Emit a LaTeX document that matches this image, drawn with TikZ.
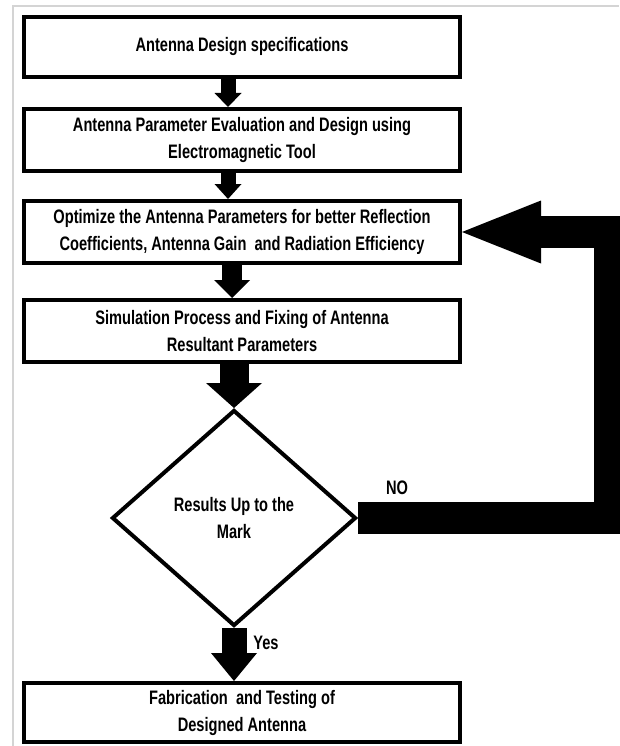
\documentclass[tikz,border=0pt]{standalone}
\usepackage{fontspec}
\setmainfont{Liberation Sans}[FakeStretch=0.75]
\usetikzlibrary{arrows.meta,shapes.geometric}
\begin{document}
\begin{tikzpicture}[x=1pt,y=-1pt,
  txt/.style={font=\fontsize{19.5}{27}\selectfont\bfseries},
  stepbox/.style={draw,line width=4pt,minimum width=436pt,inner sep=0pt,align=center,txt},
  decision/.style={draw,diamond,line width=4pt,minimum width=244pt,minimum height=216pt,aspect=1.13,inner sep=0pt,align=center,txt},
  blockarr/.style args={#1/#2/#3}{line width=#1,-{Triangle[width=#2,length=#3,line width=0pt]}},
  frameline/.style={draw=black!17,line width=2pt}]
\useasboundingbox (0,0) rectangle (619,746);
\draw[frameline] (13,746) -- (13,6) -- (619,6);

\node[stepbox,minimum height=60pt] (b1) at (242,47) {Antenna Design specifications};
\node[stepbox,minimum height=62pt] (b2) at (242,140) {Antenna Parameter Evaluation and Design using\\Electromagnetic Tool};
\node[stepbox,minimum height=62pt] (b3) at (242,232) {Optimize the Antenna Parameters for better Reflection\\Coefficients, Antenna Gain\ \ and Radiation Efficiency};
\node[stepbox,minimum height=62pt] (b4) at (242,331) {Simulation Process and Fixing of Antenna\\Resultant Parameters};
\node[decision] (d) at (234,518) {Results Up to the\\Mark};
\node[stepbox,minimum height=59pt] (b5) at (242,712.5) {Fabrication\ \ and Testing of\\Designed Antenna};

\coordinate (fb) at (610,375);

\draw[blockarr=15pt/27pt/14pt] ([xshift=-14pt]b1.south) -- ([xshift=-14pt]b2.north);
\draw[blockarr=15pt/27pt/15pt] ([xshift=-14pt]b2.south) -- ([xshift=-14pt]b3.north);
\draw[blockarr=20pt/36pt/18pt] ([xshift=-10pt]b3.south) -- ([xshift=-10pt]b4.north);
\draw[blockarr=29pt/56pt/25pt] (b4.south -| d.north) -- (d.north);
\draw[blockarr=25pt/46pt/28pt] (d.south) -- (b5.north -| d.south);
\draw[line width=32pt,line join=miter,-{Triangle[width=63pt,length=79pt,line width=0pt]}] (d.east) -| (fb) |- (b3.east);

\node[txt,anchor=center] (no) at (397,488) {NO};
\node[txt,anchor=center] (yes) at (266,643) {Yes};
\end{tikzpicture}
\end{document}
